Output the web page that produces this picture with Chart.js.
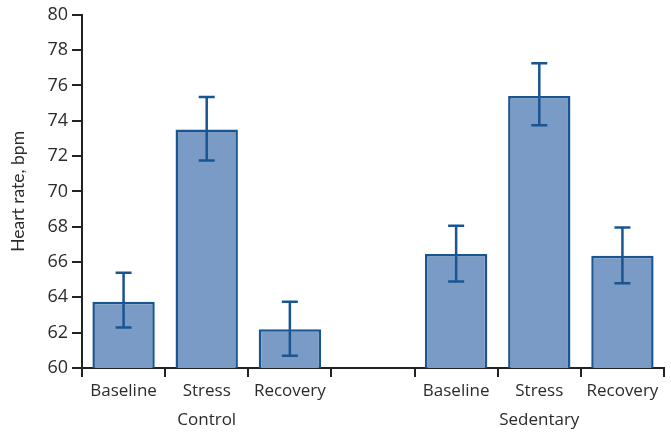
<!DOCTYPE html>
<html>
<head>
<meta charset="utf-8">
<script src="https://cdn.jsdelivr.net/npm/chart.js@4/dist/chart.umd.min.js"></script>
<style>
html,body{margin:0;padding:0;background:#fff;}
#wrap{width:671px;height:434px;}
</style>
</head>
<body>
<div id="wrap"><canvas id="c" width="671" height="434"></canvas></div>
<script>
const categories = [['Baseline'], ['Stress', 'Control'], ['Recovery'], [''], ['Baseline'], ['Stress', 'Sedentary'], ['Recovery']];
const meanValues = [63.75, 73.5, 62.2, null, 66.45, 75.4, 66.35];
const errUpper = [65.4, 75.35, 63.75, null, 68.05, 77.25, 67.95];
const errLower = [62.3, 71.75, 60.7, null, 64.9, 73.75, 64.8];
const yTicks = [60, 62, 64, 66, 68, 70, 72, 74, 76, 78, 80];
const yTitle = 'Heart rate, bpm';

const BAR_FILL = '#7a9bc5';
const BAR_EDGE = '#1a5592';
const AXIS = '#222222';
const TEXT = '#2b2b2b';
const FONT = "'Open Sans', 'DejaVu Sans', sans-serif";
const TITLE_FONT = "Lato, 'Open Sans', sans-serif";

const errorBars = {
  id: 'errorBars',
  afterDatasetsDraw(chart) {
    const ctx = chart.ctx;
    const meta = chart.getDatasetMeta(0);
    const ys = chart.scales.y;
    ctx.save();
    ctx.strokeStyle = BAR_EDGE;
    ctx.lineWidth = 2.5;
    meta.data.forEach((bar, i) => {
      if (meanValues[i] == null) return;
      const x = bar.x;
      const yt = ys.getPixelForValue(errUpper[i]);
      const yb = ys.getPixelForValue(errLower[i]);
      const cap = 8;
      ctx.beginPath();
      ctx.moveTo(x, yt); ctx.lineTo(x, yb);
      ctx.moveTo(x - cap, yt); ctx.lineTo(x + cap, yt);
      ctx.moveTo(x - cap, yb); ctx.lineTo(x + cap, yb);
      ctx.stroke();
    });
    ctx.restore();
  }
};

new Chart(document.getElementById('c'), {
  type: 'bar',
  data: {
    labels: categories,
    datasets: [{
      data: meanValues,
      backgroundColor: BAR_FILL,
      borderColor: BAR_EDGE,
      borderWidth: 2.5,
      borderSkipped: false,
      barPercentage: 0.75,
      categoryPercentage: 1.0
    }]
  },
  options: {
    responsive: false,
    animation: false,
    devicePixelRatio: 1,
    layout: { padding: { top: 6, right: 7, left: 0, bottom: 0 } },
    plugins: { legend: { display: false }, tooltip: { enabled: false } },
    scales: {
      x: {
        offset: true,
        grid: { display: true, offset: true, drawOnChartArea: false, drawTicks: true, tickLength: 9, color: AXIS, lineWidth: 2 },
        border: { display: true, color: AXIS, width: 2 },
        ticks: { color: TEXT, font: { family: FONT, size: 17, lineHeight: 1.75 }, padding: -1, maxRotation: 0, autoSkip: false },
        afterFit(s) { s.height = 66; }
      },
      y: {
        min: 60, max: 80,
        afterBuildTicks(s) { s.ticks = yTicks.map(v => ({ value: v })); },
        grid: { display: true, drawOnChartArea: false, drawTicks: true, tickLength: 10, color: AXIS, lineWidth: 2 },
        border: { display: true, color: AXIS, width: 2 },
        ticks: { color: TEXT, font: { family: FONT, size: 18 }, padding: 4 },
        title: { display: true, text: yTitle, color: TEXT, font: { family: TITLE_FONT, size: 17.5 }, padding: { top: 8, bottom: 0 } },
        afterFit(s) { s.width = 82; }
      }
    }
  },
  plugins: [errorBars]
});
</script>
</body>
</html>
